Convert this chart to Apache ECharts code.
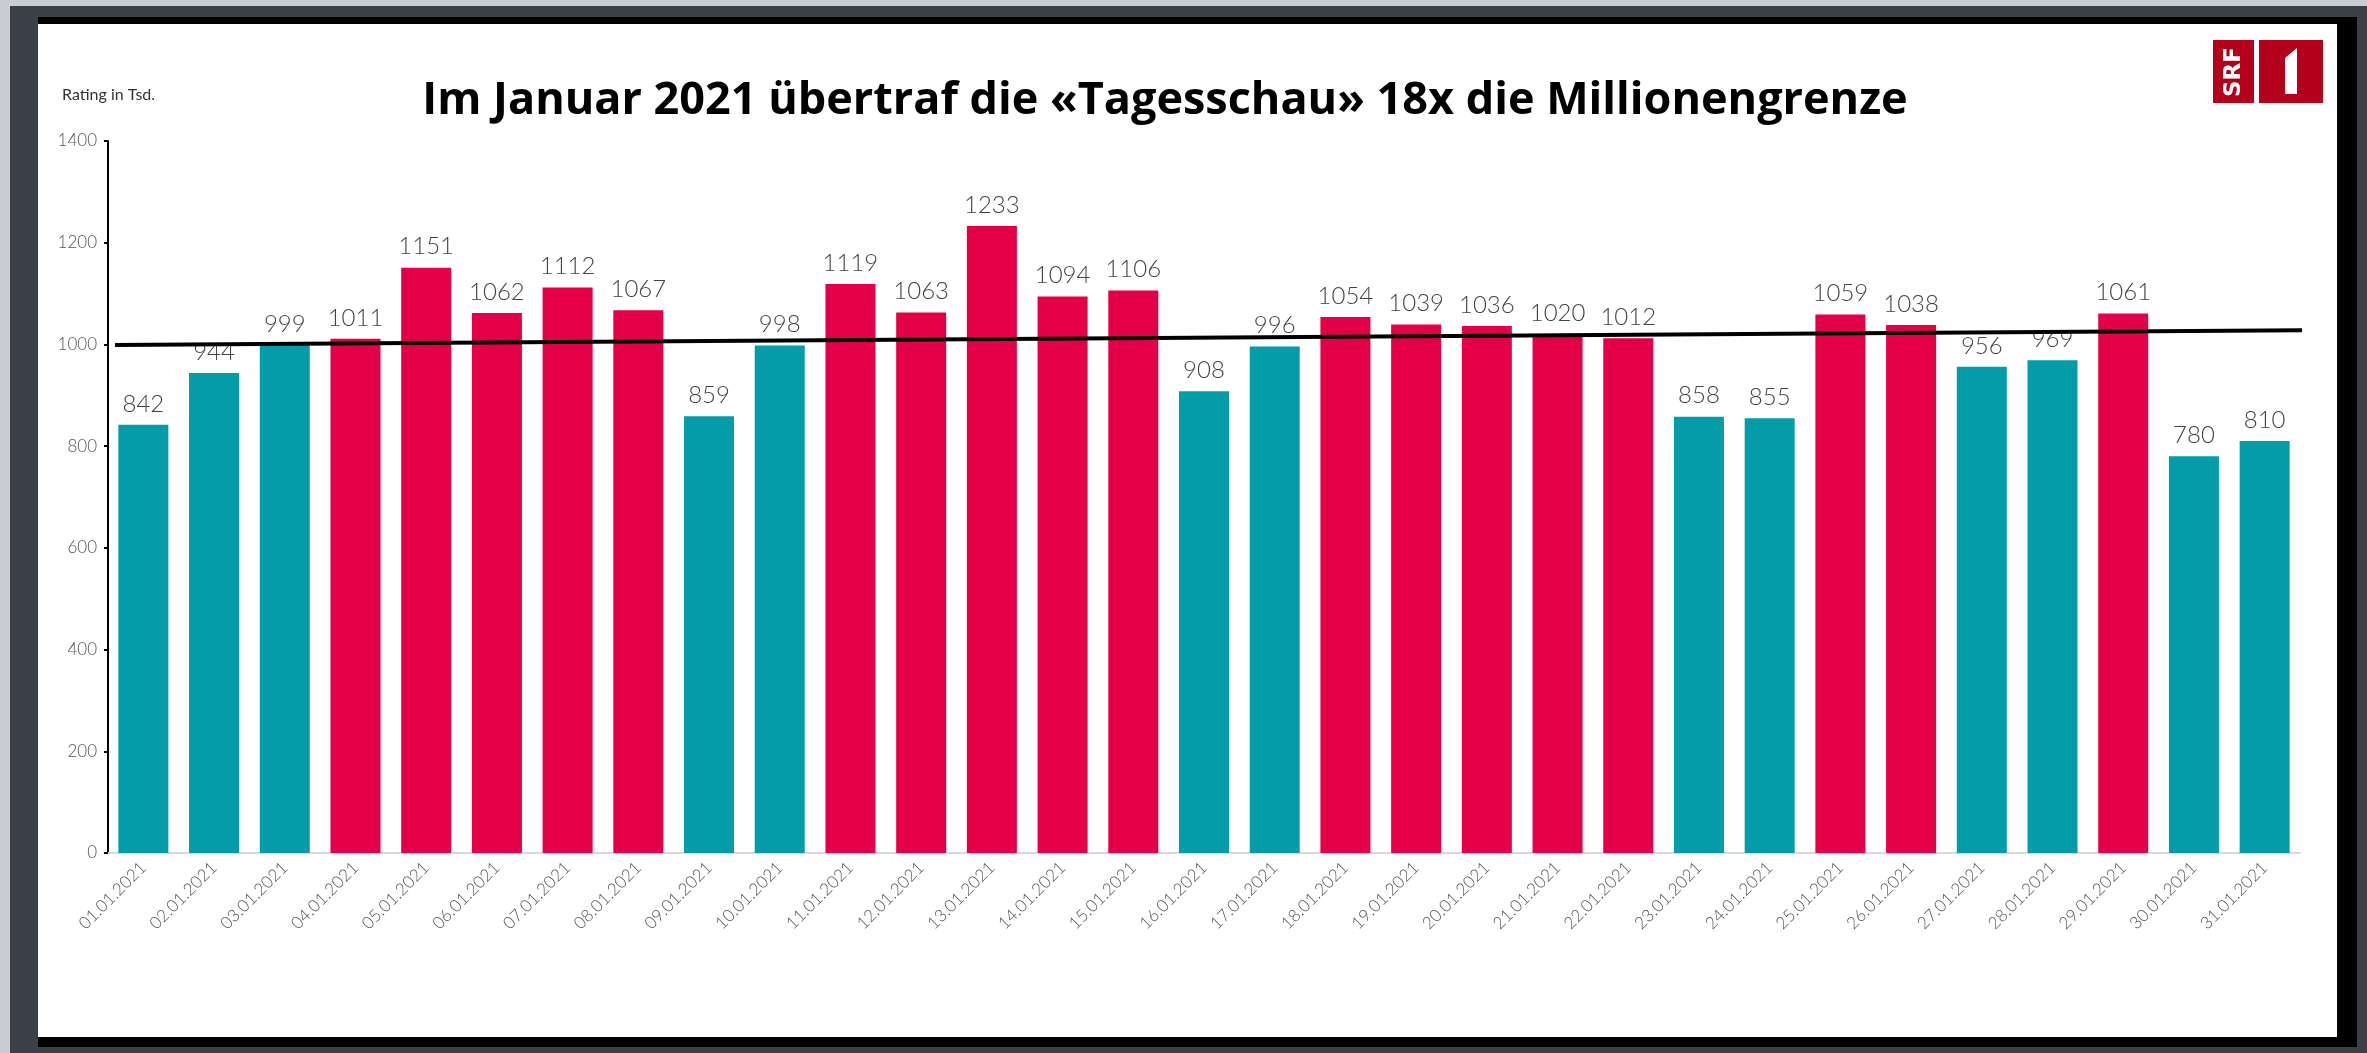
<!DOCTYPE html>
<html>
<head>
<meta charset="utf-8">
<script src="https://cdn.jsdelivr.net/npm/echarts@6/dist/echarts.min.js"></script>
<style>
html,body{margin:0;padding:0;background:#3b4048;}
#chart{width:2367px;height:1053px;}
</style>
</head>
<body>
<div id="chart"></div>
<script>
const categories = ["01.01.2021","02.01.2021","03.01.2021","04.01.2021","05.01.2021","06.01.2021","07.01.2021","08.01.2021","09.01.2021","10.01.2021","11.01.2021","12.01.2021","13.01.2021","14.01.2021","15.01.2021","16.01.2021","17.01.2021","18.01.2021","19.01.2021","20.01.2021","21.01.2021","22.01.2021","23.01.2021","24.01.2021","25.01.2021","26.01.2021","27.01.2021","28.01.2021","29.01.2021","30.01.2021","31.01.2021"];
const ratings = [842,944,999,1011,1151,1062,1112,1067,859,998,1119,1063,1233,1094,1106,908,996,1054,1039,1036,1020,1012,858,855,1059,1038,956,969,1061,780,810];
const millionThreshold = 1000;
const trendX = [-0.4, 30.8];
const trendY = [999, 1028];
const yTicks = [0,200,400,600,800,1000,1200,1400];

const TEAL = '#049ca8', RED = '#e30048';
const chart = echarts.init(document.getElementById('chart'), null, {renderer:'canvas'});
const W = 2367, H = 1053;

chart.setOption({
  backgroundColor: '#3b4048',
  animation: false,
  graphic: [
    {type:'rect', z:-10, shape:{x:0,y:0,width:10,height:H}, style:{fill:'#c9cdd1'}},
    {type:'rect', z:-10, shape:{x:0,y:0,width:W,height:6}, style:{fill:'#c9cdd1'}},
    {type:'rect', z:-9, shape:{x:38,y:17,width:2319,height:1030}, style:{fill:'#000'}},
    {type:'rect', z:-8, shape:{x:38,y:24,width:2299,height:1013}, style:{fill:'#fff'}},
    {type:'rect', z:5, shape:{x:2213,y:40,width:41,height:63}, style:{fill:'#b3001b'}},
    {type:'rect', z:5, shape:{x:2259,y:40,width:64,height:63}, style:{fill:'#b3001b'}},
    {type:'polygon', z:6, shape:{points:[[2285,58],[2297,48],[2297,94],[2285,94]]}, style:{fill:'#fff'}},
    {type:'text', z:6, x:2234, y:72, rotation:Math.PI/2,
      style:{text:'SRF', fill:'#fff', font:'bold 23px "DejaVu Sans"', textAlign:'center', textVerticalAlign:'middle'}}
  ],
  title: [
    {text:'Im Januar 2021 übertraf die «Tagesschau» 18x die Millionengrenze', left:'1160', top:74,
     textAlign:'center',
     textStyle:{fontFamily:'Open Sans', fontWeight:'bold', fontSize:45, color:'#000'}},
    {text:'Rating in Tsd.', left:57, top:82,
     textStyle:{fontFamily:'Lato', fontWeight:'normal', fontSize:16, color:'#333'}}
  ],
  grid: {left:108, right:67, top:141, bottom:200, containLabel:false},
  xAxis: [
    {type:'category', data:categories,
     axisLine:{lineStyle:{color:'#d9d9d9', width:2}},
     axisTick:{show:false},
     axisLabel:{rotate:45, margin:12, fontSize:17, color:'#555', fontFamily:'Lato', fontWeight:300, interval:0}},
    {type:'value', min:-0.5, max:30.5, show:false}
  ],
  yAxis: {type:'value', min:0, max:1400, interval:200,
    axisLine:{show:true, onZero:false, lineStyle:{color:'#000', width:2}},
    axisTick:{show:true, inside:false, length:4, lineStyle:{color:'#000', width:2}},
    splitLine:{show:false},
    axisLabel:{margin:11, fontSize:17, color:'#555', fontFamily:'Lato', fontWeight:300,
      formatter: v => yTicks.includes(v) ? String(v) : ''}
  },
  series: [
    {type:'bar', xAxisIndex:0, barWidth:50,
     data: ratings.map(v => ({value:v, itemStyle:{color: v >= millionThreshold ? RED : TEAL}})),
     label:{show:true, position:'top', distance:9, fontSize:24, color:'#444', fontFamily:'Lato', fontWeight:300}},
    {type:'line', xAxisIndex:1, clip:false, symbol:'none', z:5,
     data: trendX.map((x,i) => [x, trendY[i]]),
     lineStyle:{color:'#000', width:4}}
  ]
});
</script>
</body>
</html>
